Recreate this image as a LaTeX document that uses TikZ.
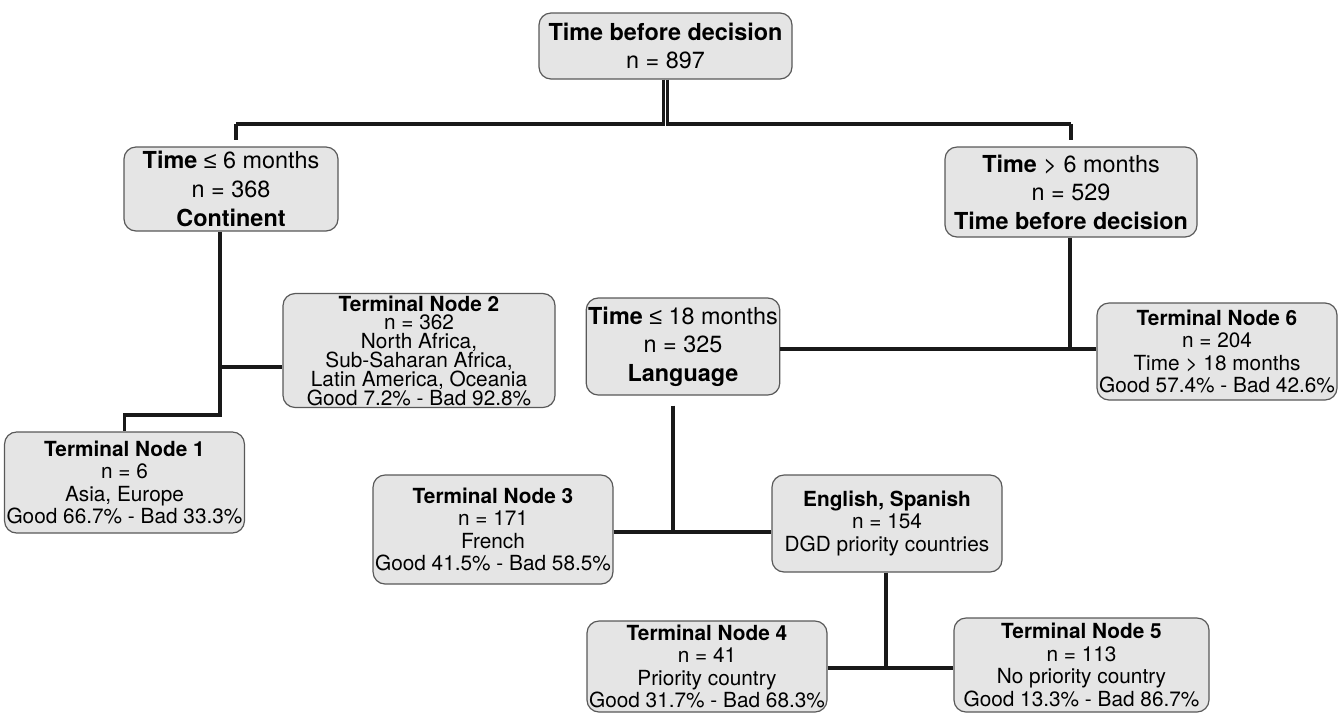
\documentclass[tikz,border=0pt]{standalone}
\usepackage{fontspec}
\setmainfont{TeX Gyre Heros}
\newfontfamily\symfnt{Liberation Sans}
\newcommand{\lesseq}{{\symfnt ≤}}
\usepackage{tikz}

\begin{document}
\begin{tikzpicture}[x=0.5pt,y=-0.5pt,
    box/.style={draw=black!65,line width=0.6pt,fill=black!10,rounded corners=6pt,
      align=center,inner sep=1pt},
    split/.style={box,font=\fontsize{11.7}{14.3}\selectfont},
    leaf/.style={box,font=\fontsize{10.4}{11.3}\selectfont},
    branch/.style={line width=1.6pt,black!90}]
    \useasboundingbox (0,0) rectangle (1339,714);
    \node [split,minimum width=126.5pt,minimum height=33pt] (root) at (665.5,46)
      {\textbf{Time before decision}\\n = 897};
    \node [split,minimum width=107pt,minimum height=42pt] (t6le) at (231,189)
      {\textbf{Time} \lesseq{} 6 months\\n = 368\\\textbf{Continent}};
    \node [split,minimum width=126pt,minimum height=45pt] (t6gt) at (1071,192)
      {\textbf{Time} > 6 months\\n = 529\\\textbf{Time before decision}};
    \node [split,minimum width=96pt,minimum height=48.5pt] (t18) at (683,346.5)
      {\textbf{Time} \lesseq{} 18 months\\n = 325\\\textbf{Language}};
    \node [leaf,minimum width=115pt,minimum height=48.5pt] (eng) at (887,523.5)
      {\textbf{English, Spanish}\\n = 154\\DGD priority countries};
    \node [leaf,minimum width=112.5pt,minimum height=50.5pt] (tn1) at (124.5,482.5)
      {\textbf{Terminal Node 1}\\n = 6\\Asia, Europe\\Good 66.7\% - Bad 33.3\%};
    \node [leaf,font=\fontsize{10.4}{9.4}\selectfont,minimum width=136pt,
      minimum height=52.5pt] (tn2) at (419,350.5)
      {\textbf{Terminal Node 2}\\n = 362\\North Africa,\\Sub-Saharan Africa,\\
       Latin America, Oceania\\Good 7.2\% - Bad 92.8\%};
    \node [leaf,minimum width=114pt,minimum height=54.5pt] (tn3) at (493,529.5)
      {\textbf{Terminal Node 3}\\n = 171\\French\\Good 41.5\% - Bad 58.5\%};
    \node [leaf,minimum width=120pt,minimum height=45.5pt] (tn4) at (707,666.5)
      {\textbf{Terminal Node 4}\\n = 41\\Priority country\\Good 31.7\% - Bad 68.3\%};
    \node [leaf,minimum width=127.5pt,minimum height=47pt] (tn5) at (1081.5,665)
      {\textbf{Terminal Node 5}\\n = 113\\No priority country\\Good 13.3\% - Bad 86.7\%};
    \node [leaf,minimum width=120pt,minimum height=48.5pt] (tn6) at (1217,351.5)
      {\textbf{Terminal Node 6}\\n = 204\\Time > 18 months\\Good 57.4\% - Bad 42.6\%};
    \coordinate (hl) at (236,124);
    \coordinate (hr) at (1071,124);
    \coordinate (ja) at (220,367);
    \coordinate (jb) at (220,415);
    \coordinate (jd) at (1070,349);
    \coordinate (je) at (673,532);
    \coordinate (jf) at (886,668);
    \draw [branch] ([xshift=-1.2pt]root.south) |- (hl);
    \draw [branch,shorten >=3pt] (hl) -- (hl |- t6le.north);
    \draw [branch] ([xshift=0.8pt]root.south) |- (hr);
    \draw [branch,shorten >=3pt] (hr) -- (hr |- t6gt.north);
    \draw [branch] (jb |- t6le.south) -- (jb) -| (tn1.north);
    \draw [branch] (ja) -- (ja -| tn2.west);
    \draw [branch] (jd |- t6gt.south) -- (jd);
    \draw [branch] (jd -| t18.east) -- (jd -| tn6.west);
    \draw [branch,shorten <=5pt] (je |- t18.south) -- (je);
    \draw [branch] (je -| tn3.east) -- (je -| eng.west);
    \draw [branch] (jf |- eng.south) -- (jf);
    \draw [branch] (jf -| tn4.east) -- (jf -| tn5.west);
  \end{tikzpicture}
\end{document}
